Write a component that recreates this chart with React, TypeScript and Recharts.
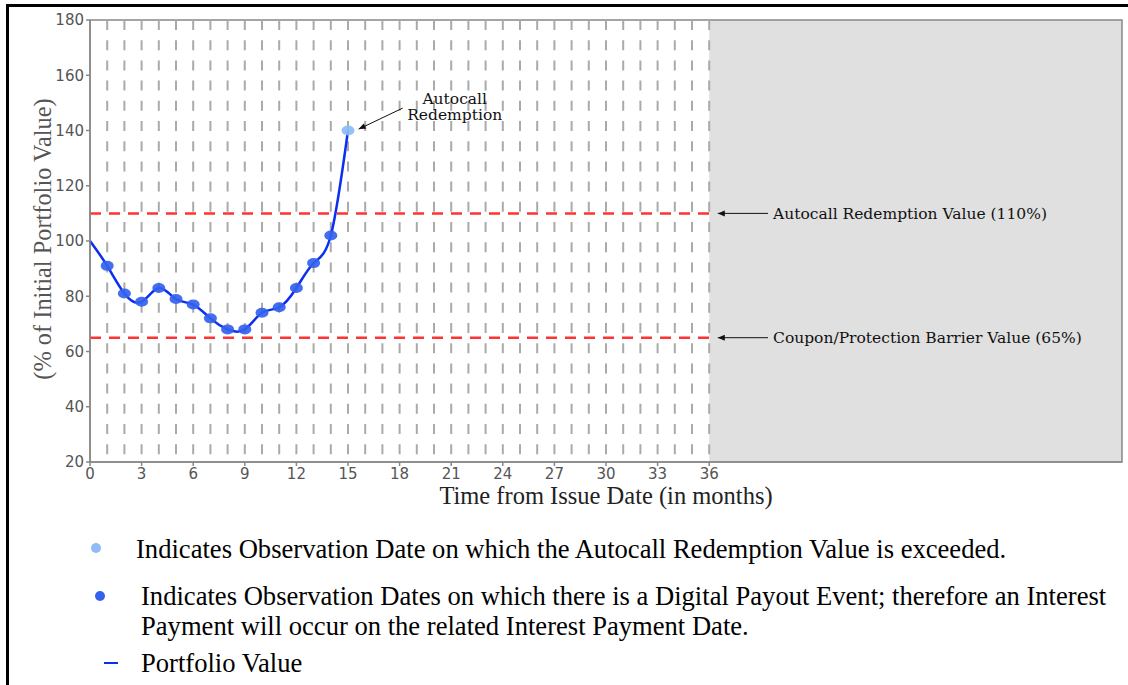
import React from 'react';
import {
  ComposedChart,
  Line,
  XAxis,
  YAxis,
  ReferenceLine,
  ReferenceArea,
} from 'recharts';

// observation months and portfolio value (% of initial)
const months = [0, 1, 2, 3, 4, 5, 6, 7, 8, 9, 10, 11, 12, 13, 14, 15];
const portfolioValues = [100, 91, 81, 78, 83, 79, 77, 72, 68, 68, 74, 76, 83, 92, 102, 140];

const observationMonths = [
  1, 2, 3, 4, 5, 6, 7, 8, 9, 10, 11, 12, 13, 14, 15, 16, 17, 18,
  19, 20, 21, 22, 23, 24, 25, 26, 27, 28, 29, 30, 31, 32, 33, 34, 35, 36,
];
const xTicks = [0, 3, 6, 9, 12, 15, 18, 21, 24, 27, 30, 33, 36];
const yTicks = [20, 40, 60, 80, 100, 120, 140, 160, 180];

const autocallLevel = 110;
const barrierLevel = 65;
const termMonths = 36;
const axisEndMonths = 60;

const data = months.map((m, i) => ({ month: m, value: portfolioValues[i] }));

const SERIF = '"DejaVu Serif", serif';
const TIMES = '"Liberation Serif", "Times New Roman", serif';
const SANS = '"DejaVu Sans", sans-serif';

const renderDot = (p: any) => {
  const { cx, cy, index } = p;
  if (index === 0) return <g key={`dot-${index}`} />;
  const last = index === months.length - 1;
  return (
    <ellipse
      key={`dot-${index}`}
      cx={cx}
      cy={cy}
      rx={6.5}
      ry={5}
      fill={last ? '#8dbcf6' : '#3462ee'}
      fillOpacity={0.92}
    />
  );
};

function arrowHead(x1: number, y1: number, x2: number, y2: number) {
  const a = Math.atan2(y2 - y1, x2 - x1);
  const len = 7;
  const w = 3;
  const bx = x2 - len * Math.cos(a);
  const by = y2 - len * Math.sin(a);
  return `${x2},${y2} ${bx - w * Math.sin(a)},${by + w * Math.cos(a)} ${bx + w * Math.sin(a)},${by - w * Math.cos(a)}`;
}

const arrowShape = (p: any) => {
  const { x1, y1, x2, y2 } = p;
  return (
    <g>
      <line x1={x1} y1={y1} x2={x2} y2={y2} stroke="#111" strokeWidth={1} />
      <polygon points={arrowHead(x1, y1, x2, y2)} fill="#111" />
    </g>
  );
};

const autocallNoteShape = (p: any) => {
  const { x1, y1 } = p;
  return (
    <g>
      {arrowShape(p)}
      <text x={x1 + 52} y={y1 - 4} textAnchor="middle" fontFamily={SERIF} fontSize={15.5} fill="#111">
        Autocall
      </text>
      <text x={x1 + 52} y={y1 + 12} textAnchor="middle" fontFamily={SERIF} fontSize={15.5} fill="#111">
        Redemption
      </text>
    </g>
  );
};

const gridShape = (p: any) => {
  const { x1, y1, x2, y2 } = p;
  const top = Math.min(y1, y2);
  const bottom = Math.max(y1, y2);
  return (
    <line x1={x1} y1={top} x2={x2} y2={bottom} stroke="#aaaaaa" strokeWidth={2} strokeDasharray="10 10.2" />
  );
};

const legendText: React.CSSProperties = {
  position: 'absolute',
  fontFamily: TIMES,
  fontSize: 26.6,
  color: '#000',
  whiteSpace: 'nowrap',
  lineHeight: '30px',
};

export default function App() {
  return (
    <div style={{ position: 'absolute', left: 0, top: 0, width: 1128, height: 685, background: '#fff', overflow: 'hidden' }}>
      <div style={{ position: 'absolute', left: 6, top: 4, right: 0, height: 3, background: '#000' }} />
      <div style={{ position: 'absolute', left: 6, top: 4, width: 3, bottom: 0, background: '#000' }} />

      <div style={{ position: 'absolute', left: 0, top: 0 }}>
        <ComposedChart width={1128} height={520} data={data} margin={{ top: 20, right: 6, left: 0, bottom: 20 }}>
          <XAxis
            dataKey="month"
            type="number"
            domain={[0, axisEndMonths]}
            ticks={xTicks}
            interval={0}
            height={38}
            stroke="#888"
            strokeWidth={1.5}
            tickSize={4}
            tickMargin={2}
            tick={{ fill: '#555', fontSize: 15, fontFamily: SANS }}
            label={{
              content: (lp: any) => {
                const vb = lp.viewBox;
                return (
                  <text x={vb.x + vb.width / 2} y={504} textAnchor="middle" fontFamily={TIMES} fontSize={24.5} fill="#222">
                    Time from Issue Date (in months)
                  </text>
                );
              },
            }}
          />
          <YAxis
            type="number"
            domain={[20, 180]}
            ticks={yTicks}
            interval={0}
            width={90}
            stroke="#888"
            strokeWidth={1.5}
            tickSize={4}
            tickMargin={2}
            tick={{ fill: '#555', fontSize: 15, fontFamily: SANS }}
            label={{
              content: (lp: any) => {
                const vb = lp.viewBox;
                const cy = vb.y + vb.height / 2 - 2;
                return (
                  <text
                    x={42}
                    y={cy}
                    transform={`rotate(-90 42 ${cy})`}
                    textAnchor="middle"
                    dominantBaseline="central"
                    fontFamily={TIMES}
                    fontSize={24.4}
                    fill="#555"
                  >
                    (% of Initial Portfolio Value)
                  </text>
                );
              },
            }}
          />
          <ReferenceArea x1={termMonths} x2={axisEndMonths} y1={20} y2={180} fill="#e0e0e0" fillOpacity={1} stroke="none" />
          <ReferenceArea x1={0} x2={axisEndMonths} y1={20} y2={180} fill="none" stroke="#888" strokeWidth={1.5} />
          {observationMonths.map((m) => (
            <ReferenceLine key={`g${m}`} x={m} shape={gridShape} />
          ))}
          <ReferenceLine
            segment={[{ x: 0, y: autocallLevel }, { x: termMonths, y: autocallLevel }]}
            stroke="#ff3333"
            strokeWidth={2.5}
            strokeDasharray="11 8"
          />
          <ReferenceLine
            segment={[{ x: 0, y: barrierLevel }, { x: termMonths, y: barrierLevel }]}
            stroke="#ff3333"
            strokeWidth={2.5}
            strokeDasharray="11 8"
          />
          <ReferenceLine
            segment={[{ x: 39.42, y: autocallLevel }, { x: 36.5, y: autocallLevel }]}
            shape={arrowShape}
            label={{ value: 'Autocall Redemption Value (110%)', position: 'right', offset: 5, fill: '#111', fontSize: 15.5, fontFamily: SERIF }}
          />
          <ReferenceLine
            segment={[{ x: 39.42, y: barrierLevel }, { x: 36.5, y: barrierLevel }]}
            shape={arrowShape}
            label={{ value: 'Coupon/Protection Barrier Value (65%)', position: 'right', offset: 5, fill: '#111', fontSize: 15.5, fontFamily: SERIF }}
          />
          <ReferenceLine
            segment={[{ x: 18.18, y: 148.1 }, { x: 15.62, y: 140.5 }]}
            shape={autocallNoteShape}
          />
          <Line
            type="natural"
            dataKey="value"
            stroke="#0a2ef2"
            strokeWidth={2.5}
            dot={renderDot}
            activeDot={false}
            isAnimationActive={false}
          />
        </ComposedChart>
      </div>

      <svg style={{ position: 'absolute', left: 0, top: 0 }} width={160} height={685}>
        <circle cx={96} cy={548} r={5} fill="#8dbcf6" />
        <circle cx={100} cy={596} r={5} fill="#3462ee" />
        <line x1={104} y1={663} x2={118} y2={663} stroke="#0a2ef2" strokeWidth={2} />
      </svg>
      <div style={{ ...legendText, left: 136, top: 534 }}>
        Indicates Observation Date on which the Autocall Redemption Value is exceeded.
      </div>
      <div style={{ ...legendText, left: 141, top: 581 }}>
        Indicates Observation Dates on which there is a Digital Payout Event; therefore an Interest
      </div>
      <div style={{ ...legendText, left: 141, top: 611 }}>
        Payment will occur on the related Interest Payment Date.
      </div>
      <div style={{ ...legendText, left: 141, top: 648 }}>Portfolio Value</div>
    </div>
  );
}
